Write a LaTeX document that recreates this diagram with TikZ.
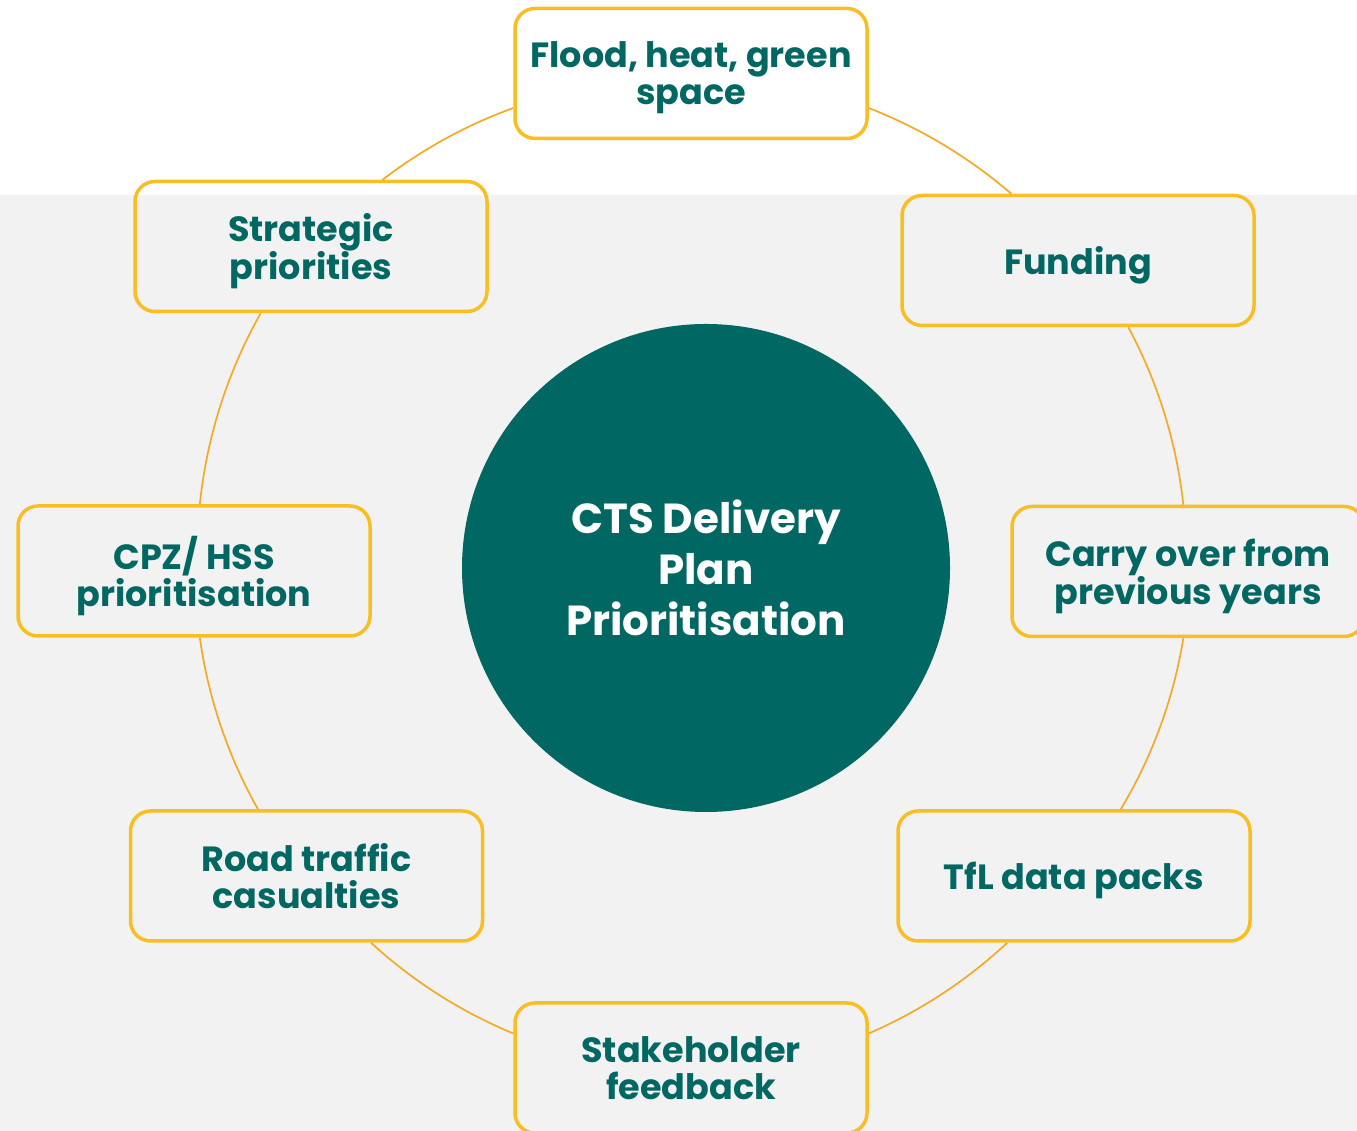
\documentclass[tikz,border=0pt]{standalone}
\usepackage{fontspec}
\setmainfont{Poppins}
\usepackage{tikz}
\definecolor{ctsteal}{RGB}{0,103,98}
\definecolor{boxgold}{RGB}{249,190,35}
\definecolor{ringorange}{RGB}{244,170,40}
\definecolor{bggray}{RGB}{242,242,242}

\begin{document}
\begin{tikzpicture}[x=1pt, y=1pt,
		box/.style={draw=boxgold, line width=3.5pt, rounded corners=20pt, minimum width=352pt, minimum height=130pt,
			text=ctsteal, align=center, text depth=0pt, font=\fontsize{35}{37}\selectfont\bfseries},
		hub/.style={circle, fill=ctsteal, minimum size=488pt, text=white, align=center,
			font=\fontsize{42}{51}\selectfont\bfseries},
		ring/.style={draw=ringorange, line width=1.7pt, looseness=0.86}]
			\useasboundingbox (0,0) rectangle (1357,1131);
			\fill[white] (0,0) rectangle (1357,1131);
			\fill[bggray] (0,0) rectangle (1357,936);

			\node[hub]  (hub)    at (706,563)     {CTS Delivery\\Plan\\Prioritisation};

			\node[box]  (flood)  at (691,1057.5)  {Flood, heat, green\\space};
			\node[box]  (fund)   at (1078,870.5)  {Funding};
			\node[box]  (carry)  at (1188,559.5)  {Carry over from\\previous years};
			\node[box]  (tfl)    at (1074,255)    {TfL data packs};
			\node[box]  (stake)  at (691,63)      {Stakeholder\\feedback};
			\node[box]  (road)   at (306.5,255)   {Road traffic\\casualties};
			\node[box]  (cpz)    at (194,560)     {CPZ/ HSS\\prioritisation};
			\node[box]  (strat)  at (311,884.5)   {Strategic\\priorities};

			% arcs of the ring, clockwise from the top box
			\foreach \from/\to/\bend in {flood.-11/fund.135/9.7, fund.-53/carry.94/11, carry.-94/tfl.55/10.9,
					tfl.-135/stake.11/9.8, stake.169/road.-46/10, road.126/cpz.-85/10.8,
					cpz.85/strat.-127/11.8, strat.43/flood.191/8.8}
				\draw[ring] (\from) to[bend left=\bend] (\to);
		\end{tikzpicture}
\end{document}
